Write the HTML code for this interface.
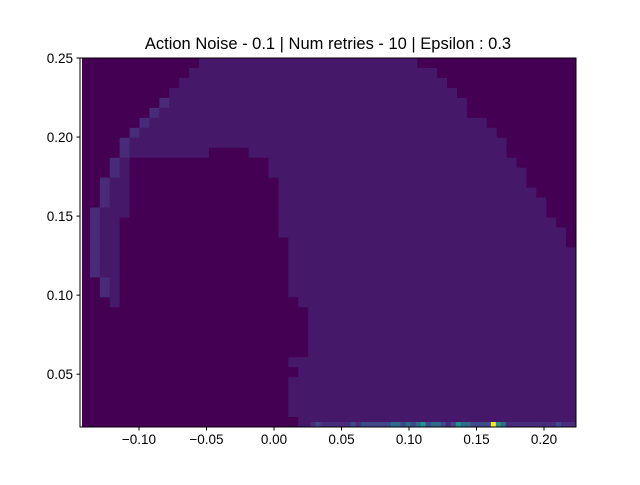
<!DOCTYPE html>
<html><head><meta charset="utf-8"><style>
body{margin:0;background:#fff;}
svg text{font-family:"Liberation Sans","DejaVu Sans",sans-serif;fill:#000;}
</style></head><body>
<svg id="chart" width="640" height="480" viewBox="0 0 640 480" xmlns="http://www.w3.org/2000/svg">
<rect width="640" height="480" fill="#fff"/>
<text x="328" y="49" font-size="16.5" text-anchor="middle">Action Noise - 0.1 | Num retries - 10 | Epsilon : 0.3</text>
<g id="cells"></g>
<g id="strip"></g>
<g id="axes"></g>
</svg>
<script>
// grid density rows (run-length: level*count), 50 cols x 37 rows, top row first
const gridRows = [
"0*12,1*22,0*16","0*11,1*25,0*14","0*10,1*27,0*13","0*9,1*29,0*12",
"0*8,2*1,1*30,0*11","0*7,2*1,1*31,0*11","0*6,2*1,1*34,0*9","0*5,2*1,1*36,0*8",
"0*4,2*1,1*38,0*7","0*4,2*1,1*8,0*4,1*26,0*7","0*3,2*1,1*1,0*14,1*25,0*6",
"0*3,2*1,1*1,0*14,1*26,0*5","0*2,2*1,1*2,0*15,1*25,0*5","0*2,2*1,1*2,0*15,1*26,0*4",
"0*2,2*1,1*2,0*15,1*27,0*3","0*1,2*1,1*3,0*15,1*27,0*3","0*1,2*1,1*2,0*16,1*28,0*2",
"0*1,2*1,1*2,0*16,1*29,0*1","0*1,2*1,1*2,0*17,1*28,0*1","0*1,2*1,1*2,0*17,1*29",
"0*1,2*1,1*2,0*17,1*29","0*1,2*1,1*2,0*17,1*29","0*2,2*1,1*1,0*17,1*29",
"0*2,2*1,1*1,0*17,1*29","0*3,1*1,0*18,1*28","0*23,1*27","0*23,1*27","0*23,1*27",
"0*23,1*27","0*23,1*27","0*21,1*29","0*22,1*28","0*21,1*29","0*21,1*29",
"0*21,1*29","0*21,1*29","0*22,1*28"
];
// bottom-row bin values (bins of width 5 starting at bin 46 of 99)
const stripStartBin = 46;
const stripValues = [1,2,1,1,1,1,1,1,2,1,2, 2,2,2,2,2,3,3,2,3,2, 3,4,2,3,3,2,1,2,4,3, 3,2,2,2,2,9,4,3,1,1, 1,1,1,1,1,1,1,1,2,1, 1,1];
const xTicks = [-0.10,-0.05,0.00,0.05,0.10,0.15,0.20];
const xTickLabels = ["\u22120.10","\u22120.05","0.00","0.05","0.10","0.15","0.20"];
const yTicks = [0.05,0.10,0.15,0.20,0.25];
const yTickLabels = ["0.05","0.10","0.15","0.20","0.25"];
const xDomain = [-0.1437, 0.2237];
const yDomain = [0.0166, 0.25];

const L=80,R=576,T=58,B=427;
const NS="http://www.w3.org/2000/svg";
function xs(v){return L+(v-xDomain[0])/(xDomain[1]-xDomain[0])*(R-L);}
function ys(v){return B-(v-yDomain[0])/(yDomain[1]-yDomain[0])*(B-T);}
function mk(tag,attrs,parent){const e=document.createElementNS(NS,tag);for(const k in attrs)e.setAttribute(k,attrs[k]);parent.appendChild(e);return e;}
const gridColors={0:"#440154",1:"#46186a",2:"#472a78"};
const stripColors={0:"#440154",1:"#472d7b",2:"#3e4a89",3:"#2f6b8e",4:"#21918c",9:"#fde725"};
const cells=document.getElementById('cells');
const nRows=gridRows.length, nCols=50;
const cw=(R-L)/nCols, ch=(B-T)/nRows;
gridRows.forEach((row,r)=>{
  let c=0;
  row.split(',').forEach(run=>{
    const [lv,cnt]=run.split('*').map(Number);
    const rect=mk('rect',{x:L+c*cw,y:T+r*ch,width:cw*cnt+0.5,height:ch+0.5,fill:gridColors[lv]},cells);
    
    
    c+=cnt;
  });
});
const strip=document.getElementById('strip');
const bw=(R-L)/99;
stripValues.forEach((v,i)=>{
  const rect=mk('rect',{x:L+(stripStartBin+i)*bw,y:B-5,width:bw+0.3,height:5,fill:stripColors[v]},strip);
  
  
});
const axes=document.getElementById('axes');
mk('rect',{x:80.5,y:T,width:1.5,height:B-T,fill:"#fff"},axes);
const frame=mk('rect',{x:L,y:T,width:R-L,height:B-T,fill:"none",stroke:"#000","stroke-width":1},axes);


xTicks.forEach((t,i)=>{
  const x=xs(t);
  const tk=mk('line',{x1:x,x2:x,y1:B,y2:B+3.5,stroke:"#000"},axes);
  
  
  const lb=mk('text',{x:x,y:B+17,"font-size":"13.5","text-anchor":"middle"},axes);
  lb.textContent=xTickLabels[i];
  
  
});
yTicks.forEach((t,i)=>{
  const y=ys(t);
  const tk=mk('line',{x1:L-3.5,x2:L,y1:y,y2:y,stroke:"#000"},axes);
  
  
  const lb=mk('text',{x:L-7,y:y+5,"font-size":"13.5","text-anchor":"end"},axes);
  lb.textContent=yTickLabels[i];
  
  
});
</script>
</body></html>
